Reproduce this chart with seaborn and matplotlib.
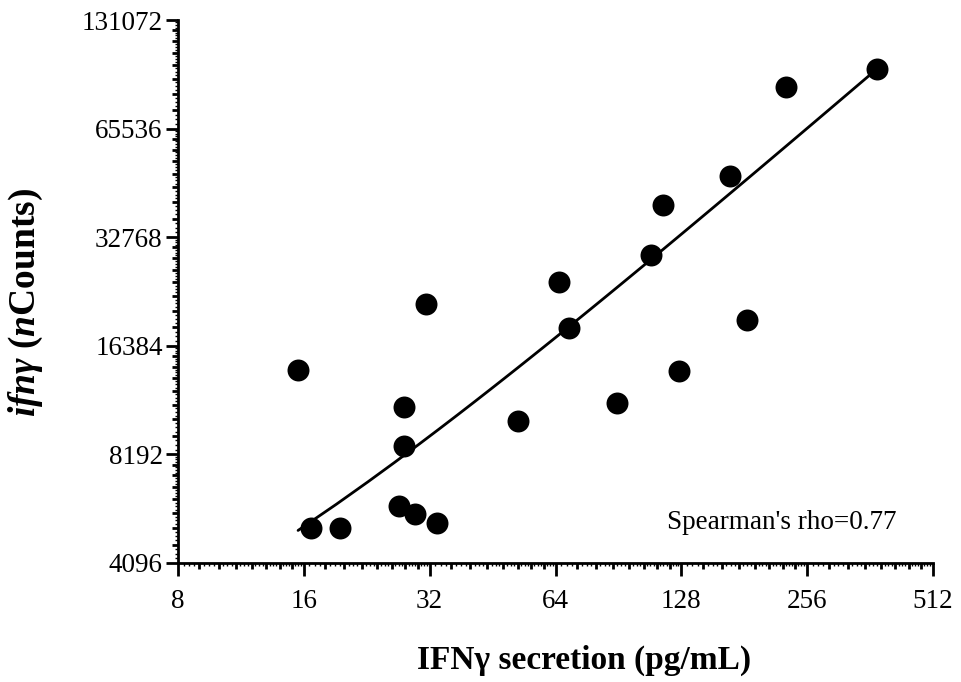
import numpy as np
import pandas as pd
import matplotlib
matplotlib.use("Agg")
import matplotlib.pyplot as plt
from matplotlib.ticker import NullFormatter
import seaborn as sns

# values (log2 axes)
ifng_secretion = [15.5, 16.6, 19.5, 27.0, 27.8, 27.8, 29.5, 31.4, 33.3, 52.1,
                  65.3, 69.0, 89.9, 108.4, 115.8, 126.4, 167.5, 184.0, 228.0, 376.4]
ifng_counts = [14040, 5120, 5120, 5890, 11090, 8640, 5600, 21390, 5290, 10140,
               24620, 18360, 11380, 29250, 40260, 13950, 48450, 19320, 85480, 95880]
x_ticks = [8, 16, 32, 64, 128, 256, 512]
y_ticks = [4096, 8192, 16384, 32768, 65536, 131072]
rho_text = "Spearman's rho=0.77"

sns.set_style("ticks")
plt.rcParams["font.family"] = ["Liberation Serif", "DejaVu Serif"]
plt.rcParams["text.color"] = "black"
plt.rcParams["axes.labelcolor"] = "black"
plt.rcParams["mathtext.fontset"] = "custom"
plt.rcParams["mathtext.rm"] = "Liberation Serif"
plt.rcParams["mathtext.bf"] = "Liberation Serif:bold"
plt.rcParams["mathtext.it"] = "Liberation Serif:italic"
plt.rcParams["mathtext.bfit"] = "Liberation Serif:italic:bold"

df = pd.DataFrame({"secretion": ifng_secretion, "counts": ifng_counts})

fig = plt.figure(figsize=(9.61, 6.82), dpi=100)
ax = fig.add_axes([178 / 961, 1 - 563 / 682, 755 / 961, 543 / 682])

ax.set_xscale("log", base=2)
ax.set_yscale("log", base=2)

sns.regplot(
    data=df,
    x="secretion",
    y="counts",
    scatter=False,
    ci=None,
    color="black",
    line_kws={"linewidth": 2},
    ax=ax
)

sns.scatterplot(
    data=df,
    x="secretion",
    y="counts",
    color="black",
    s=250,
    edgecolor="black",
    linewidth=0,
    ax=ax,
    zorder=3,
    clip_on=False
)

ax.set_xlim(8, 512)
ax.set_ylim(4096, 131072)

# major + medium (linear within each octave) ticks
ax.set_xticks(x_ticks)
ax.set_xticklabels([str(t) for t in x_ticks])
ax.set_yticks(y_ticks)
ax.set_yticklabels([str(t) for t in y_ticks])

x_minor = [b + k * b / 8 for b in x_ticks[:-1] for k in range(1, 8)]
y_minor = [b + k * b / 8 for b in y_ticks[:-1] for k in range(1, 8)]
ax.set_xticks(x_minor, minor=True)
ax.set_yticks(y_minor, minor=True)
ax.xaxis.set_minor_formatter(NullFormatter())
ax.yaxis.set_minor_formatter(NullFormatter())

ax.tick_params(which="major", length=9, width=2, direction="out",
               labelsize=19.5, color="black", labelcolor="black")
ax.tick_params(axis="x", which="major", pad=10)
ax.tick_params(axis="y", which="major", pad=2)
ax.tick_params(which="minor", length=4.5, width=2, direction="out", color="black")

for side in ["top", "right"]:
    ax.spines[side].set_visible(False)
for side in ["left", "bottom"]:
    ax.spines[side].set_linewidth(2)
    ax.spines[side].set_color("black")

# the fine comb of tiny ticks
x_tiny = [b + k * b / 32 for b in x_ticks[:-1] for k in range(1, 32) if k % 4]
y_tiny = [b + k * b / 32 for b in y_ticks[:-1] for k in range(1, 32) if k % 4]
sec_x = ax.secondary_xaxis("bottom")
sec_x.set_xticks([])
sec_x.set_xticks(x_tiny, minor=True)
sec_x.xaxis.set_minor_formatter(NullFormatter())
sec_x.tick_params(which="minor", length=2.5, width=1, direction="out", color="black")
sec_x.spines["bottom"].set_visible(False)
sec_y = ax.secondary_yaxis("left")
sec_y.set_yticks([])
sec_y.set_yticks(y_tiny, minor=True)
sec_y.yaxis.set_minor_formatter(NullFormatter())
sec_y.tick_params(which="minor", length=2.5, width=1, direction="out", color="black")
sec_y.spines["left"].set_visible(False)

ax.set_xlabel("IFNγ secretion (pg/mL)", fontsize=24, fontweight="bold", color="black")
ax.xaxis.set_label_coords(0.538, -0.15)
ax.set_ylabel(r"$\mathbfit{ifnγ}\ \mathbf{(}\mathbfit{n}\mathbf{Counts)}$",
              fontsize=27, color="black")
ax.yaxis.set_label_coords(-0.176, 0.48)

ax.text(0.648, 0.0755, rho_text, transform=ax.transAxes,
        fontsize=19.5, ha="left", va="center", color="black")

fig.savefig("out.png", dpi=100)
